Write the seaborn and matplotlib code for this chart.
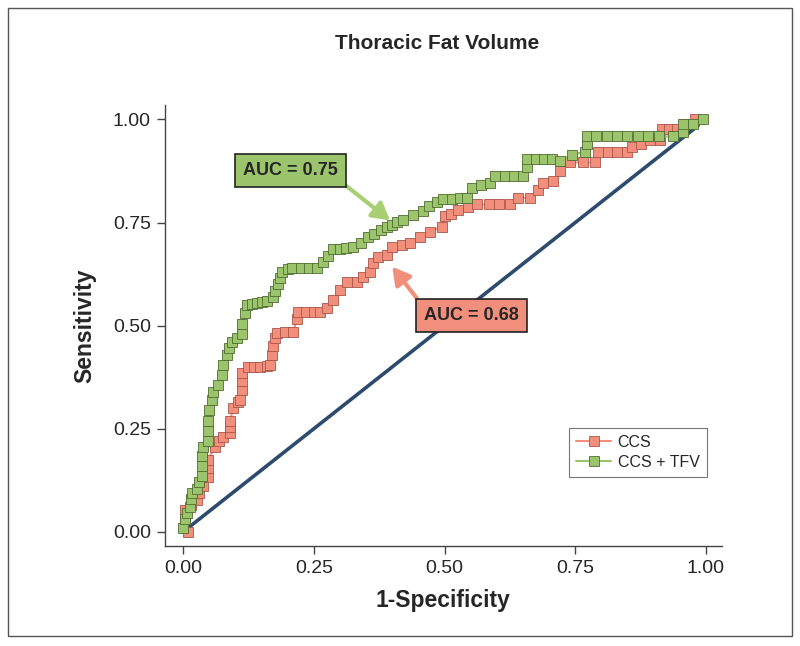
"""
Thoracic Fat Volume - ROC curves for CCS and CCS + TFV.
"""

import matplotlib
matplotlib.use("Agg")
import matplotlib.pyplot as plt
import pandas as pd
import seaborn as sns
from matplotlib.patches import Rectangle

# ROC points (1-specificity, sensitivity)
ccs_fpr = [
    0.010, 0.004, 0.004, 0.015, 0.027, 0.030, 0.038, 0.048, 0.048, 0.048,
    0.061, 0.068, 0.076, 0.090, 0.090, 0.090, 0.096, 0.105, 0.109, 0.113,
    0.113, 0.113, 0.124, 0.135, 0.147, 0.160, 0.166, 0.170, 0.172, 0.176,
    0.180, 0.195, 0.210, 0.218, 0.220, 0.235, 0.250, 0.262, 0.275, 0.287,
    0.300, 0.314, 0.333, 0.345, 0.358, 0.363, 0.373, 0.390, 0.400, 0.418,
    0.434, 0.453, 0.472, 0.495, 0.500, 0.513, 0.526, 0.545, 0.562, 0.585,
    0.605, 0.625, 0.640, 0.663, 0.679, 0.688, 0.707, 0.720, 0.740, 0.765,
    0.788, 0.793, 0.812, 0.830, 0.849, 0.858, 0.875, 0.893, 0.912, 0.916,
    0.930, 0.944, 0.960, 0.979,
]
ccs_tpr = [
    0.000, 0.030, 0.053, 0.065, 0.078, 0.095, 0.110, 0.133, 0.155, 0.175,
    0.206, 0.220, 0.230, 0.240, 0.255, 0.270, 0.300, 0.315, 0.320, 0.345,
    0.365, 0.386, 0.400, 0.400, 0.400, 0.402, 0.405, 0.430, 0.450, 0.470,
    0.483, 0.484, 0.485, 0.515, 0.534, 0.534, 0.534, 0.534, 0.544, 0.563,
    0.587, 0.607, 0.607, 0.618, 0.631, 0.653, 0.667, 0.672, 0.690, 0.695,
    0.700, 0.716, 0.728, 0.740, 0.765, 0.772, 0.780, 0.788, 0.794, 0.794,
    0.794, 0.794, 0.810, 0.810, 0.830, 0.847, 0.850, 0.874, 0.896, 0.896,
    0.896, 0.920, 0.920, 0.920, 0.920, 0.934, 0.940, 0.951, 0.951, 0.976,
    0.976, 0.976, 0.990, 1.000,
]

tfv_fpr = [
    0.000, 0.004, 0.008, 0.013, 0.015, 0.017, 0.027, 0.030, 0.036, 0.036,
    0.036, 0.038, 0.048, 0.048, 0.048, 0.050, 0.055, 0.057, 0.066, 0.075,
    0.076, 0.084, 0.088, 0.094, 0.103, 0.113, 0.113, 0.118, 0.122, 0.132,
    0.141, 0.150, 0.160, 0.172, 0.176, 0.182, 0.186, 0.190, 0.200, 0.208,
    0.225, 0.240, 0.256, 0.268, 0.278, 0.287, 0.300, 0.312, 0.325, 0.340,
    0.354, 0.365, 0.378, 0.390, 0.400, 0.410, 0.420, 0.440, 0.459, 0.470,
    0.485, 0.497, 0.515, 0.530, 0.543, 0.553, 0.570, 0.587, 0.597, 0.615,
    0.632, 0.650, 0.658, 0.658, 0.675, 0.690, 0.705, 0.720, 0.744, 0.769,
    0.772, 0.772, 0.790, 0.810, 0.830, 0.850, 0.870, 0.890, 0.910, 0.937,
    0.956, 0.956, 0.975, 0.994,
]
tfv_tpr = [
    0.010, 0.030, 0.045, 0.060, 0.080, 0.095, 0.105, 0.120, 0.135, 0.160,
    0.185, 0.205, 0.220, 0.245, 0.270, 0.295, 0.320, 0.340, 0.355, 0.380,
    0.405, 0.430, 0.445, 0.460, 0.470, 0.480, 0.505, 0.530, 0.550, 0.553,
    0.556, 0.558, 0.560, 0.570, 0.585, 0.600, 0.615, 0.630, 0.637, 0.640,
    0.640, 0.640, 0.640, 0.655, 0.670, 0.685, 0.687, 0.688, 0.690, 0.700,
    0.714, 0.722, 0.732, 0.740, 0.745, 0.752, 0.757, 0.768, 0.777, 0.790,
    0.800, 0.806, 0.808, 0.810, 0.810, 0.835, 0.840, 0.847, 0.862, 0.862,
    0.862, 0.862, 0.885, 0.903, 0.903, 0.903, 0.903, 0.900, 0.915, 0.922,
    0.940, 0.959, 0.959, 0.959, 0.959, 0.959, 0.959, 0.959, 0.959, 0.959,
    0.970, 0.988, 0.988, 1.000,
]

diag_x = [0.0, 0.985]
diag_y = [0.0, 0.985]

series_labels = ["CCS", "CCS + TFV"]
auc_labels = ["AUC = 0.68", "AUC = 0.75"]
x_ticks = [0.0, 0.25, 0.5, 0.75, 1.0]
y_ticks = [0.0, 0.25, 0.5, 0.75, 1.0]

RED_FILL = "#f28f7c"
RED_EDGE = "#a85548"
GREEN_FILL = "#9cc46c"
GREEN_EDGE = "#4f6d30"
DIAG_COLOR = "#2d4b6e"

sns.set_style("white")
plt.rcParams["font.family"] = ["Liberation Sans", "DejaVu Sans"]

fig = plt.figure(figsize=(8.0, 6.46), dpi=100)
ax = fig.add_axes([0.206, 0.155, 0.696, 0.683])

# outer frame around the whole figure
fig.patches.append(
    Rectangle((0.010, 0.0155), 0.980, 0.972, transform=fig.transFigure,
              fill=False, edgecolor="#555555", linewidth=1.0)
)

sns.lineplot(x=diag_x, y=diag_y, ax=ax, color=DIAG_COLOR, linewidth=2.6,
             estimator=None, sort=False, zorder=1)

ccs_df = pd.DataFrame({"fpr": ccs_fpr, "tpr": ccs_tpr})
tfv_df = pd.DataFrame({"fpr": tfv_fpr, "tpr": tfv_tpr})

sns.lineplot(data=ccs_df, x="fpr", y="tpr", ax=ax, sort=False, estimator=None,
             color=RED_FILL, linewidth=1.5, marker="s", markersize=7.5,
             markerfacecolor=RED_FILL, markeredgecolor=RED_EDGE,
             markeredgewidth=0.6, label=series_labels[0], zorder=2)
sns.lineplot(data=tfv_df, x="fpr", y="tpr", ax=ax, sort=False, estimator=None,
             color=GREEN_FILL, linewidth=1.5, marker="s", markersize=7.5,
             markerfacecolor=GREEN_FILL, markeredgecolor=GREEN_EDGE,
             markeredgewidth=0.6, label=series_labels[1], zorder=3)

ax.set_xlim(-0.035, 1.03)
ax.set_ylim(-0.034, 1.036)
ax.set_xticks(x_ticks)
ax.set_yticks(y_ticks)
ax.set_xticklabels([f"{t:.2f}" for t in x_ticks])
ax.set_yticklabels([f"{t:.2f}" for t in y_ticks])
ax.tick_params(axis="both", direction="out", length=6, width=1.0,
               color="#444444", labelsize=14, pad=4)
ax.tick_params(axis="both", bottom=True, left=True)

for side in ("top", "right"):
    ax.spines[side].set_visible(False)
for side in ("left", "bottom"):
    ax.spines[side].set_color("#444444")
    ax.spines[side].set_linewidth(1.0)

ax.set_xlabel("1-Specificity", fontsize=16.5, fontweight="bold", labelpad=9)
ax.set_ylabel("Sensitivity", fontsize=16.5, fontweight="bold", labelpad=12)
fig.text(0.547, 0.933, "Thoracic Fat Volume", ha="center", va="center",
         fontsize=15, fontweight="bold")

# AUC call-outs
ax.annotate(auc_labels[1], xy=(0.396, 0.755), xytext=(0.205, 0.876),
            ha="center", va="center", fontsize=13, fontweight="bold",
            bbox=dict(boxstyle="square,pad=0.45", facecolor=GREEN_FILL,
                      edgecolor="#222222", linewidth=1.2),
            arrowprops=dict(arrowstyle="-|>,head_length=0.8,head_width=0.45",
                            color="#a8cf74", linewidth=3, relpos=(1, 0),
                            shrinkA=0, shrinkB=0))
ax.annotate(auc_labels[0], xy=(0.400, 0.643), xytext=(0.551, 0.524),
            ha="center", va="center", fontsize=13, fontweight="bold",
            bbox=dict(boxstyle="square,pad=0.45", facecolor=RED_FILL,
                      edgecolor="#222222", linewidth=1.2),
            arrowprops=dict(arrowstyle="-|>,head_length=0.8,head_width=0.45",
                            color=RED_FILL, linewidth=3, relpos=(0, 1),
                            shrinkA=0, shrinkB=0))

leg = ax.legend(loc="lower right", bbox_to_anchor=(0.973, 0.156), fontsize=11.5,
                frameon=True, fancybox=False, borderpad=0.45, handlelength=2.2,
                labelspacing=0.3, handletextpad=0.4, borderaxespad=0)
leg.get_frame().set_edgecolor("#555555")
leg.get_frame().set_linewidth(0.8)

fig.savefig("out.png", dpi=100)
plt.close(fig)
